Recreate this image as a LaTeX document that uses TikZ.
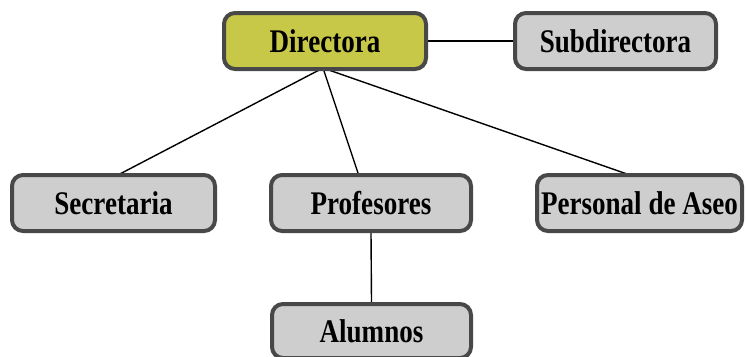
\documentclass[tikz,border=0pt]{standalone}
\usepackage{fontspec}
\setmainfont{Liberation Serif}[FakeStretch=0.82]
\usetikzlibrary{calc,backgrounds}
\definecolor{boxgray}{RGB}{206,206,206}
\definecolor{boxolive}{RGB}{200,200,72}
\definecolor{boxedge}{RGB}{72,72,72}
\tikzset{
  orgbox/.style={draw=boxedge, line width=4pt, rounded corners=11pt, fill=boxgray,
    minimum height=56pt, inner sep=0pt, font=\bfseries\fontsize{33}{36}\selectfont},
  headbox/.style={orgbox, fill=boxolive},
  link/.style={draw=black, line width=1.4pt}
}
\begin{document}
\begin{tikzpicture}[x=1pt, y=-1pt]
  \useasboundingbox (0,0) rectangle (746,356);
  % boxes
  \node[headbox, minimum width=202pt] (dir) at (325,41) {Directora};
  \node[orgbox, minimum width=201pt] (sub) at (615.5,41) {Subdirectora};
  \node[orgbox, minimum width=203pt] (sec) at (113.5,203) {Secretaria};
  \node[orgbox, minimum width=200pt] (prof) at (371,203) {Profesores};
  \node[orgbox, minimum width=205pt] (aseo) at (639.5,203) {Personal de Aseo};
  \node[orgbox, minimum width=199pt, minimum height=54pt] (alu) at (371.5,331) {Alumnos};
  \coordinate (hub) at ($(dir.south)+(-2,-3)$);
  % connectors, kept behind the boxes
  \begin{scope}[on background layer]
    \draw[link] (dir.east) -- (sub.west);
    \draw[link] (hub) -- ($(sec.north)+(2.5,3)$);
    \draw[link] (hub) -- ($(prof.north)+(-13,0)$);
    \draw[link] (hub) -- ($(aseo.north)+(-12.5,1)$);
    \draw[link] (prof.south) -- (alu.north);
  \end{scope}
\end{tikzpicture}
\end{document}
